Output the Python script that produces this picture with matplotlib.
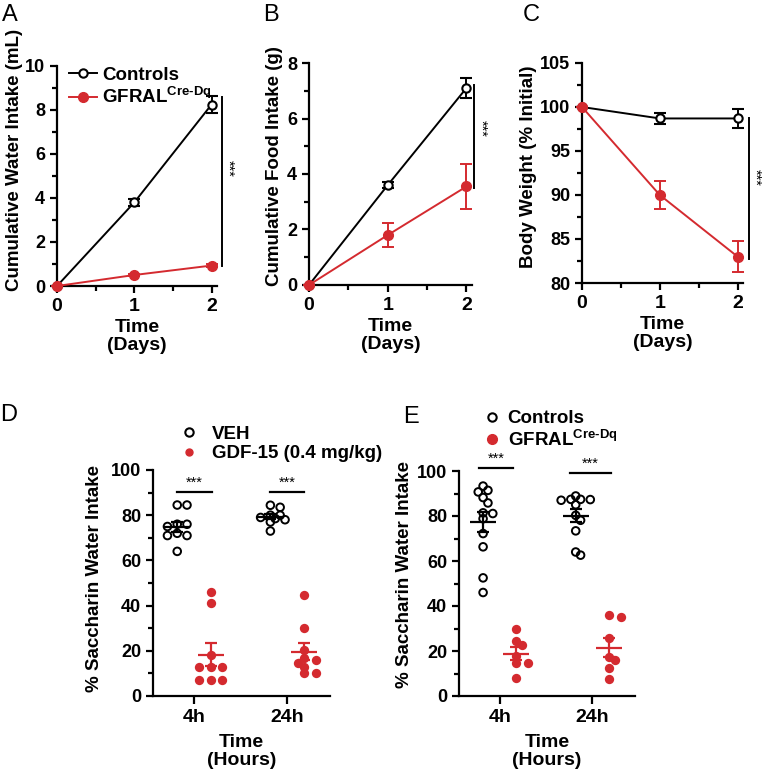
import numpy as np
import matplotlib
matplotlib.use("Agg")
import matplotlib.pyplot as plt
from matplotlib.lines import Line2D

plt.rcParams['font.family'] = ['Liberation Sans', 'DejaVu Sans']
plt.rcParams['font.weight'] = 'bold'
plt.rcParams['mathtext.fontset'] = 'custom'
plt.rcParams['mathtext.rm'] = 'Liberation Sans'

RED = '#d42a2f'
W, H = 762, 777

# ---- panels A-C: time course (mean, SEM) ----
days = [0, 1, 2]
water_ctrl = [0, 3.8, 8.25]
water_ctrl_err = [0, 0.15, 0.4]
water_gfral = [0, 0.5, 0.93]
water_gfral_err = [0, 0.05, 0.06]

food_ctrl = [0, 3.6, 7.1]
food_ctrl_err = [0, 0.1, 0.37]
food_gfral = [0, 1.8, 3.55]
food_gfral_err = [0, 0.42, 0.8]

bw_ctrl = [100, 98.7, 98.7]
bw_ctrl_err = [0, 0.6, 1.1]
bw_gfral = [100, 90.0, 83.0]
bw_gfral_err = [0, 1.6, 1.8]

# ---- panels D-E: individual animals ----
hours = ['4h', '24h']
d_veh_4 = [84.5, 84.5, 76, 75, 76, 71, 71, 72, 64]
d_gdf_4 = [46, 41, 18, 13, 13, 13, 7, 7, 7]
d_veh_24 = [84.4, 83.5, 80, 80, 79, 78.5, 78, 77, 73]
d_gdf_24 = [44.7, 30.2, 20.5, 16.8, 16, 14.6, 13, 10, 10]

e_ctrl_4 = [93.3, 91.4, 90.7, 88.2, 85.8, 81.4, 81.1, 78.8, 72.2, 66.3, 52.5, 46]
e_gfral_4 = [30, 22.6, 24.4, 17.8, 14.5, 14.5, 7.8]
e_ctrl_24 = [88.9, 87.4, 87.4, 87.3, 87.0, 85, 80.3, 78.1, 73.4, 64, 62.6]
e_gfral_24 = [36, 34.9, 25.9, 16, 17.5, 12.3, 7.5]

fig = plt.figure(figsize=(W / 100, H / 100), dpi=100)


def px_axes(l, t, r, b):
    return fig.add_axes([l / W, 1 - b / H, (r - l) / W, (b - t) / H])


def style(ax):
    for s in ['top', 'right']:
        ax.spines[s].set_visible(False)
    for s in ['left', 'bottom']:
        ax.spines[s].set_linewidth(1.6)
    ax.tick_params(which='major', direction='out', length=5, width=1.6, labelsize=13)
    ax.tick_params(which='minor', direction='out', length=3.5, width=1.6)
    for lab in ax.get_xticklabels() + ax.get_yticklabels():
        lab.set_fontweight('bold')


def time_panel(ax, ctrl, ctrl_err, gfral, gfral_err, ylim, major, minor, ylabel, ylab_xy, sig):
    ax.errorbar(days, ctrl, yerr=ctrl_err, color='black', lw=1.4, marker='o', ms=6,
                mfc='white', mec='black', mew=1.5, capsize=4, elinewidth=1.4, capthick=1.4,
                clip_on=False, zorder=3)
    ax.errorbar(days, gfral, yerr=gfral_err, color=RED, lw=1.4, marker='o', ms=7,
                mfc=RED, mec=RED, capsize=4, elinewidth=1.4, capthick=1.4,
                clip_on=False, zorder=4)
    ax.set_xlim(0, 2.07)
    ax.set_ylim(*ylim)
    ax.set_xticks([0, 1, 2])
    ax.set_xticks([0.5, 1.5], minor=True)
    ax.set_yticks(major)
    ax.set_yticks(minor, minor=True)
    style(ax)
    ax.tick_params(axis='x', labelsize=14)
    ax.set_ylabel(ylabel, fontsize=13.5, fontweight='bold')
    ax.yaxis.set_label_coords(*ylab_xy)
    ax.set_xlabel('Time\n(Days)', fontsize=14, fontweight='bold', linespacing=1.05)
    ax.xaxis.set_label_coords(0.5, -0.15)
    ax.xaxis.label.set_va('top')
    x_line, y0, y1, x_star = sig
    ax.plot([x_line, x_line], [y0, y1], color='black', lw=1.4, clip_on=False)
    ax.text(x_star, (y0 + y1) / 2 + (y0 - y1) * 0.08, '***', rotation=270, fontsize=10.5,
            fontweight='normal', ha='center', va='center', clip_on=False)


axA = px_axes(57, 66, 217, 286)
time_panel(axA, water_ctrl, water_ctrl_err, water_gfral, water_gfral_err, (0, 10),
           [0, 2, 4, 6, 8, 10], [1, 3, 5, 7, 9], 'Cumulative Water Intake (mL)',
           (-0.215, 0.575), (2.13, 8.6, 0.9, 2.21))
gfral_label = r'GFRAL$^{\mathrm{Cre‐Dq}}$'
axA.legend(handles=[Line2D([], [], color='black', lw=1.4, marker='o', ms=6, mfc='white', mew=1.5),
                    Line2D([], [], color=RED, lw=1.4, marker='o', ms=7)],
           labels=['Controls', gfral_label], loc='upper left', bbox_to_anchor=(0.03, 1.03),
           frameon=False, fontsize=13.5, handlelength=1.5, handletextpad=0.25, labelspacing=0.12,
           borderaxespad=0)

axB = px_axes(309, 63, 472, 285)
time_panel(axB, food_ctrl, food_ctrl_err, food_gfral, food_gfral_err, (0, 8),
           [0, 2, 4, 6, 8], [1, 3, 5, 7], 'Cumulative Food Intake (g)',
           (-0.16, 0.535), (2.1, 7.2, 3.5, 2.19))

axC = px_axes(582, 63, 743, 283)
time_panel(axC, bw_ctrl, bw_ctrl_err, bw_gfral, bw_gfral_err, (80, 105),
           [80, 85, 90, 95, 100, 105], [82.5, 87.5, 92.5, 97.5, 102.5], 'Body Weight (% Initial)',
           (-0.28, 0.53), (2.15, 98.7, 82.7, 2.22))


def swarm(vals, center, px_x, px_y, diam=7.5):
    vals = np.asarray(vals, float)
    xs = np.zeros(len(vals))
    placed = []
    for i in np.argsort(vals)[::-1]:
        y = vals[i] * px_y
        for k in [0, 1, -1, 2, -2, 3, -3, 4, -4]:
            x = k * diam * 0.65
            if all((x - px) ** 2 + (y - py) ** 2 >= (diam * 0.75) ** 2 for px, py in placed):
                break
        placed.append((x, y))
        xs[i] = center + x / px_x
    return xs


def dot_panel(ax, groups, px_x, px_y, sigs):
    for vals, center, color, filled in groups:
        xs = swarm(vals, center, px_x, px_y, diam=7.5 if not filled else 9)
        if filled:
            ax.scatter(xs, vals, s=45, color=color, zorder=3, clip_on=False, linewidths=0)
        else:
            ax.scatter(xs, vals, s=30, facecolor='none', edgecolor=color, linewidths=1.4,
                       zorder=3, clip_on=False)
        m = np.mean(vals)
        sem = np.std(vals, ddof=1) / np.sqrt(len(vals))
        ax.hlines(m, center - 0.14, center + 0.14, color=color, lw=1.6, zorder=4)
        ax.errorbar([center], [m], yerr=[sem], color=color, lw=0, elinewidth=1.6,
                    capsize=4.5, capthick=1.6, zorder=4)
    ax.set_xlim(-0.44, 1.46)
    ax.set_ylim(0, 100)
    ax.set_xticks([0, 1])
    ax.set_xticklabels(hours)
    ax.set_yticks([0, 20, 40, 60, 80, 100])
    ax.set_yticks([10, 30, 50, 70, 90], minor=True)
    style(ax)
    ax.tick_params(axis='x', length=6, labelsize=14)
    ax.set_ylabel('% Saccharin Water Intake', fontsize=13.5, fontweight='bold')
    ax.set_xlabel('Time\n(Hours)', fontsize=14, fontweight='bold', linespacing=1.05)
    ax.xaxis.set_label_coords(0.5, -0.17)
    ax.xaxis.label.set_va('top')
    for x0, x1, y in sigs:
        ax.plot([x0, x1], [y, y], color='black', lw=1.6, clip_on=False)
        ax.text((x0 + x1) / 2, y + 1.0, '***', fontsize=10.5, fontweight='normal',
                ha='center', va='bottom', clip_on=False)


axD = px_axes(153, 470, 330, 696)
dot_panel(axD, [(d_veh_4, -0.18, 'black', False), (d_gdf_4, 0.18, RED, True),
                (d_veh_24, 0.82, 'black', False), (d_gdf_24, 1.18, RED, True)],
          93, 2.26, [(-0.18, 0.19, 90.3), (0.82, 1.18, 90.3)])
axD.yaxis.set_label_coords(-0.28, 0.52)
axD.legend(handles=[Line2D([], [], ls='none', marker='o', ms=6, mfc='none', mec='black', mew=1.5),
                    Line2D([], [], ls='none', marker='o', ms=5, mfc=RED, mec=RED)],
           labels=['VEH', 'GDF-15 (0.4 mg/kg)'], loc='lower left', bbox_to_anchor=(0.1, 1.0),
           frameon=False, fontsize=13.5, handlelength=1.2, handletextpad=0.6, labelspacing=0.15,
           borderaxespad=0)

axE = px_axes(459, 471, 635, 696)
dot_panel(axE, [(e_ctrl_4, -0.18, 'black', False), (e_gfral_4, 0.18, RED, True),
                (e_ctrl_24, 0.82, 'black', False), (e_gfral_24, 1.18, RED, True)],
          93, 2.25, [(-0.22, 0.14, 101.3), (0.76, 1.2, 99)])
axE.yaxis.set_label_coords(-0.26, 0.54)
axE.legend(handles=[Line2D([], [], ls='none', marker='o', ms=6, mfc='none', mec='black', mew=1.5),
                    Line2D([], [], ls='none', marker='o', ms=7, mfc=RED, mec=RED)],
           labels=['Controls', gfral_label], loc='lower left', bbox_to_anchor=(0.1, 1.06),
           frameon=False, fontsize=13.5, handlelength=0.8, handletextpad=0.45, labelspacing=0.1,
           borderaxespad=0)

for lbl, x, y in [('A', 2, 4), ('B', 263, 4), ('C', 523, 4), ('D', 0, 404), ('E', 403, 406)]:
    fig.text(x / W, 1 - y / H, lbl, fontsize=17, fontweight='normal', ha='left', va='top')

fig.savefig('out.png', dpi=100)
